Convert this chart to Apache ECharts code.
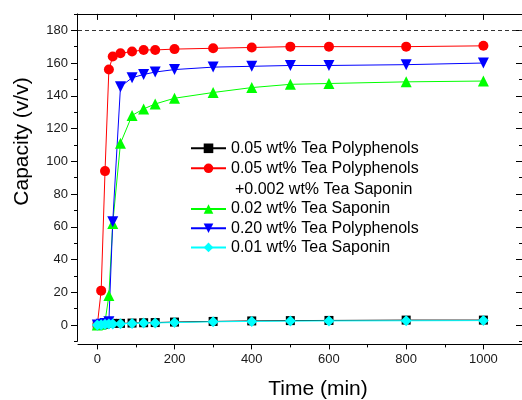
<!DOCTYPE html>
<html>
<head>
<meta charset="utf-8">
<script src="https://cdn.jsdelivr.net/npm/echarts@6/dist/echarts.min.js"></script>
<style>
html, body { margin: 0; padding: 0; background: #fff; }
#chart { width: 522px; height: 400px; }
</style>
</head>
<body>
<div id="chart"></div>
<script>
// time points (min)
var times = [0, 10, 20, 30, 40, 60, 90, 120, 150, 200, 300, 400, 500, 600, 800, 1000];

// capacity (v/v) per sample
var tp005 = [0, 0.2, 0.5, 1, 1, 1, 1.2, 1.4, 1.5, 1.8, 2.2, 2.5, 2.7, 2.8, 3, 3];
var tp005ts = [0, 21, 94, 156, 164, 166, 167, 168, 168, 168.5, 169, 169.5, 170, 170, 170, 170.5];
var ts002 = [0, 0.5, 2, 18, 62, 111, 128, 132, 135, 138.5, 142, 145, 147, 147.5, 148.5, 149];
var tp020 = [0, 0.5, 1, 2, 63, 145.5, 151, 153, 154.5, 156, 157.5, 158, 158.5, 158.5, 159, 160];
var ts001 = [0, 0.2, 0.4, 0.6, 0.7, 0.8, 1, 1.2, 1.3, 1.5, 2, 2.2, 2.4, 2.5, 2.6, 2.7];

var names = [
  '0.05 wt% Tea Polyphenols',
  '0.05 wt% Tea Polyphenols +0.002 wt% Tea Saponin',
  '0.02 wt% Tea Saponin',
  '0.20 wt% Tea Polyphenols',
  '0.01 wt% Tea Saponin'
];

// axis ticks
var xMajor = [0, 200, 400, 600, 800, 1000];
var xMinor = [100, 300, 500, 700, 900, 1100];
var yMajor = [0, 20, 40, 60, 80, 100, 120, 140, 160, 180];
var yMinor = [-10, 10, 30, 50, 70, 90, 110, 130, 150, 170, 190];
var xMin = -50, xMax = 1100;
var yMin = -10, yMax = 190;
var maxLine = 180;

var font = 'Arial, "Liberation Sans", sans-serif';

function pairs(vals) {
  return times.map(function (t, i) { return [t, vals[i]]; });
}

function tickAxis(pos, ticks, len, inside, withLine, offset) {
  return {
    type: 'value', position: pos, min: pos === 'left' || pos === 'right' ? yMin : xMin,
    max: pos === 'left' || pos === 'right' ? yMax : xMax,
    offset: offset || 0,
    axisLine: { show: withLine, onZero: false, lineStyle: { color: '#000', width: 1 } },
    axisTick: { show: true, inside: inside, length: len, customValues: ticks, lineStyle: { color: '#000', width: 1 } },
    axisLabel: { show: false },
    splitLine: { show: false }
  };
}

function mkSeries(name, vals, color, symbol, size, rotate) {
  return {
    name: name, type: 'line', data: pairs(vals),
    symbol: symbol, symbolSize: size, symbolRotate: rotate || 0,
    showAllSymbol: true,
    itemStyle: { color: color },
    lineStyle: { color: color, width: 1 },
    xAxisIndex: 0, yAxisIndex: 0
  };
}

var chart = echarts.init(document.getElementById('chart'));

var xBottom = tickAxis('bottom', xMajor, 5, false, true, 3);
xBottom.axisLabel = {
  show: true, customValues: xMajor, margin: 9, fontSize: 13, color: '#1a1a1a', fontFamily: font,
  formatter: function (v) { return String(v); }
};
var yLeft = tickAxis('left', yMajor, 6, false, true, 1);
yLeft.axisLabel = {
  show: true, customValues: yMajor, margin: 9, fontSize: 13, color: '#1a1a1a', fontFamily: font,
  formatter: function (v) { return String(v); }
};

var blackSeries = mkSeries(names[0], tp005, '#000000', 'rect', 9);
blackSeries.markLine = {
  silent: true, symbol: 'none', label: { show: false },
  lineStyle: { color: '#333', width: 1, type: [4, 3] },
  data: [{ yAxis: maxLine }]
};

chart.setOption({
  animation: false,
  grid: { left: 78, top: 13.9, width: 446.8, height: 327.5 },
  xAxis: [
    xBottom,
    tickAxis('bottom', xMinor, 3, false, false, 3),
    tickAxis('top', xMajor, 6, true, true),
    tickAxis('top', xMinor, 3, true, false)
  ],
  yAxis: [
    yLeft,
    tickAxis('left', yMinor, 3, false, false, 1),
    tickAxis('right', yMajor, 6, true, true),
    tickAxis('right', yMinor, 3, true, false)
  ],
  legend: [
    {
      data: [names[0], names[1]], orient: 'vertical', left: 190, top: 138.3,
      padding: 0, itemGap: 0, itemWidth: 35, itemHeight: 12, selectedMode: false,
      formatter: function (n) { return n === names[1] ? '0.05 wt% Tea Polyphenols' : n; },
      textStyle: { fontSize: 16, lineHeight: 20, color: '#000', fontFamily: font }
    },
    {
      data: [names[2], names[3], names[4]], orient: 'vertical', left: 190, top: 199.4,
      padding: 0, itemGap: 0, itemWidth: 35, itemHeight: 12, selectedMode: false,
      textStyle: { fontSize: 16, lineHeight: 19.2, color: '#000', fontFamily: font }
    }
  ],
  graphic: [
    {
      type: 'text', x: 235, y: 189.3,
      style: { text: '+0.002 wt% Tea Saponin', font: '16px ' + font, fill: '#000', align: 'left', verticalAlign: 'middle' }
    },
    {
      type: 'text', x: 22, y: 141.5, rotation: Math.PI / 2,
      style: { text: 'Capacity (v/v)', font: '21px ' + font, fill: '#000', align: 'center', verticalAlign: 'middle' }
    },
    {
      type: 'text', x: 318, y: 389,
      style: { text: 'Time (min)', font: '21px ' + font, fill: '#000', align: 'center', verticalAlign: 'middle' }
    }
  ],
  series: [
    blackSeries,
    mkSeries(names[1], tp005ts, '#ff0000', 'circle', 10),
    mkSeries(names[2], ts002, '#00ff00', 'triangle', 11),
    mkSeries(names[3], tp020, '#0000ff', 'triangle', 11, 180),
    mkSeries(names[4], ts001, '#00ffff', 'diamond', 11)
  ]
});
</script>
</body>
</html>
